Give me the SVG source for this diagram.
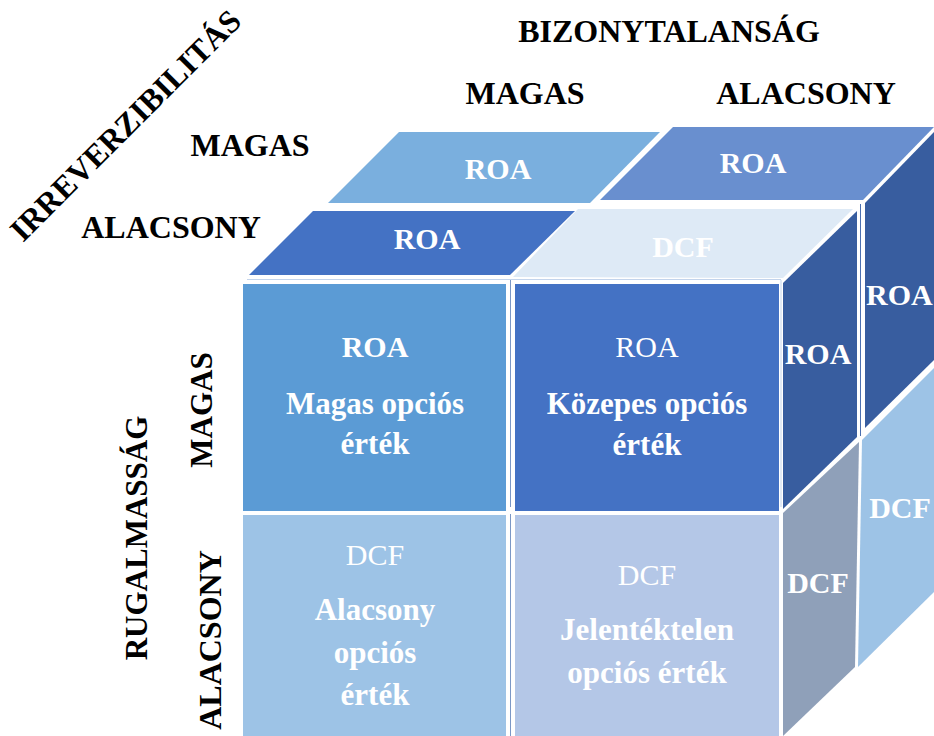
<svg xmlns="http://www.w3.org/2000/svg" width="934" height="736" viewBox="0 0 934 736">
  <style>
    text { font-family: "Liberation Serif", "Times New Roman", serif; }
    .hdr { font-size: 32px; font-weight: bold; fill: #000; text-anchor: middle; }
    .lbl { font-size: 30px; fill: #fff; text-anchor: middle; }
    .lbl-start { font-size: 30px; fill: #fff; text-anchor: start; }
    .b { font-weight: bold; }
    .big { font-size: 31px; }
    .face { stroke: none; }
    .rule { fill: none; stroke-width: 1; }
  </style>
  <rect width="934" height="736" fill="#fff"/>

  <!-- axis headings -->
  <g id="headings">
    <text class="hdr" x="669" y="42">BIZONYTALANSÁG</text>
    <text class="hdr" x="525" y="104">MAGAS</text>
    <text class="hdr" x="806" y="104">ALACSONY</text>
    <text class="hdr" x="250" y="156">MAGAS</text>
    <text class="hdr" x="171" y="238">ALACSONY</text>
    <text class="hdr" x="133" y="133" transform="rotate(-45 133 133)">IRREVERZIBILITÁS</text>
    <text class="hdr" x="147" y="538" style="font-size:31px" transform="rotate(-90 147 538)">RUGALMASSÁG</text>
    <text class="hdr" x="212" y="410" style="font-size:31px" transform="rotate(-90 212 410)">MAGAS</text>
    <text class="hdr" x="221" y="640" transform="rotate(-90 221 640)">ALACSONY</text>
  </g>

  <!-- top faces, back row -->
  <g id="top-back-left">
    <polygon class="face" points="328,203 399,132 660,132 590,203" fill="#7aafde"/>
    <text class="lbl b" x="498" y="179">ROA</text>
  </g>
  <g id="top-back-right">
    <polygon class="face" points="600,200 673,127 934,127 863,200" fill="#698fcf"/>
    <text class="lbl b" x="753" y="173">ROA</text>
  </g>

  <!-- top faces, front row -->
  <g id="top-front-left">
    <polygon class="face" points="249,275 313,211 575,211 510,275" fill="#4472c4"/>
    <text class="lbl b" x="427" y="249">ROA</text>
  </g>
  <g id="top-front-right">
    <polygon class="face" points="513,277 578,209 853,209 783,278" fill="#deeaf6"/>
    <text class="lbl b" x="683" y="257">DCF</text>
  </g>

  <!-- right side faces, far column -->
  <g id="side-far-upper">
    <polygon class="face" points="865,203 934,132 934,360 865,428" fill="#385d9f"/>
    <text class="lbl-start b" x="866" y="305">ROA</text>
  </g>
  <g id="side-far-lower">
    <polygon class="face" points="862,440 934,368 934,592 858,667" fill="#9dc3e6"/>
    <text class="lbl b" x="900" y="518">DCF</text>
  </g>

  <!-- right side faces, near column -->
  <g id="side-near-upper">
    <polygon class="face" points="783,283 857,211 857,437 783,509" fill="#385d9f"/>
    <text class="lbl b" x="818" y="364">ROA</text>
  </g>
  <g id="side-near-lower">
    <polygon class="face" points="783,513 859,442 855,667 783,736" fill="#8fa0b9"/>
    <text class="lbl b" x="818" y="593">DCF</text>
  </g>

  <!-- front faces -->
  <g id="front-top-left">
    <rect class="face" x="243" y="284" width="263" height="227" fill="#5b9bd5"/>
    <text class="lbl b" x="375" y="357">ROA</text>
    <text class="lbl b big" x="375" y="414">Magas opciós</text>
    <text class="lbl b big" x="375" y="454">érték</text>
  </g>
  <g id="front-top-right">
    <rect class="face" x="515" y="284" width="264" height="227" fill="#4472c4"/>
    <text class="lbl" x="647" y="357">ROA</text>
    <text class="lbl b big" x="647" y="414">Közepes opciós</text>
    <text class="lbl b big" x="647" y="455">érték</text>
  </g>
  <g id="front-bottom-left">
    <rect class="face" x="243" y="515" width="263" height="221" fill="#9dc3e6"/>
    <text class="lbl" x="375" y="565">DCF</text>
    <text class="lbl b big" x="375" y="620">Alacsony</text>
    <text class="lbl b big" x="375" y="663">opciós</text>
    <text class="lbl b big" x="375" y="705">érték</text>
  </g>
  <g id="front-bottom-right">
    <rect class="face" x="515" y="515" width="264" height="221" fill="#b4c7e7"/>
    <text class="lbl" x="647" y="585">DCF</text>
    <text class="lbl b big" x="647" y="640">Jelentéktelen</text>
    <text class="lbl b big" x="647" y="683">opciós érték</text>
  </g>

  <!-- thin outline rules between the faces -->
  <g id="connectors">
    <line class="rule" x1="247" y1="279.5" x2="781" y2="279.5" stroke="#c3d4ec"/>
    <line class="rule" x1="510.5" y1="280" x2="510.5" y2="507" stroke="#7a97c6"/>
    <line class="rule" x1="510.5" y1="514" x2="510.5" y2="736" stroke="#7a97c6"/>
    <line class="rule" x1="781" y1="280" x2="781" y2="507" stroke="#c3d4ec"/>
    <line class="rule" x1="860.5" y1="204" x2="860.5" y2="436" stroke="#4a6fb0"/>
  </g>
</svg>
